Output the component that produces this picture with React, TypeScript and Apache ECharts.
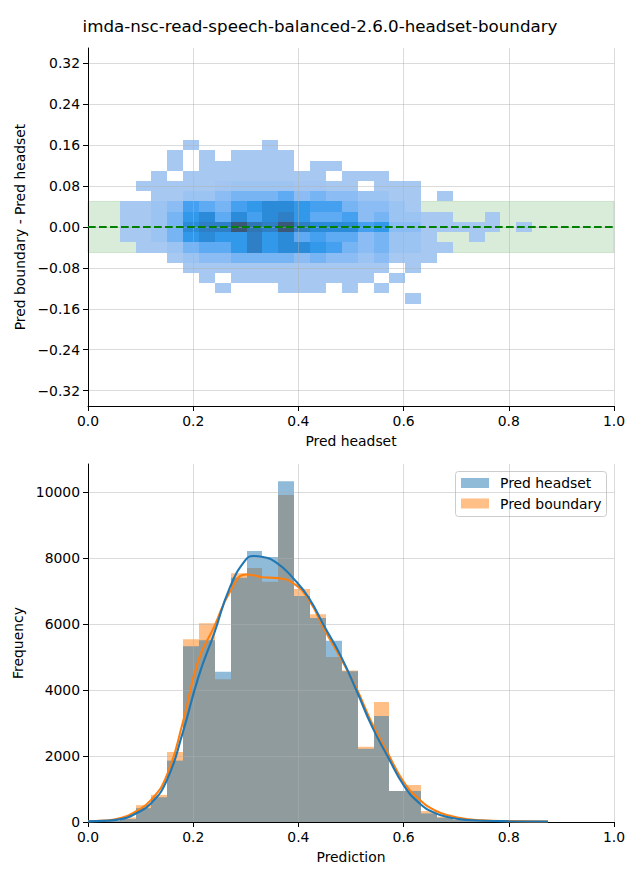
import React, { useEffect, useRef } from "react";
import * as echarts from "echarts";

const TITLE = "imda-nsc-read-speech-balanced-2.6.0-headset-boundary";
const FONT = "DejaVu Sans";

// ---- 1D histogram (29 bins from 0 to ~0.8745) ----
const histBinWidth = 0.030155;
const headsetCounts = [15, 30, 90, 420, 750, 1860, 5330, 5510, 4550, 7400, 8210, 8030, 10330, 6850, 6180, 5490, 4570, 2220, 3210, 940, 940, 260, 130, 60, 30, 20, 15, 10, 8];
const boundaryCounts = [20, 40, 140, 510, 820, 2120, 5540, 6020, 4330, 7540, 7700, 7280, 9910, 7060, 6300, 5000, 4590, 2280, 3640, 940, 1120, 330, 160, 80, 40, 25, 20, 10, 8];

// ---- KDE curves ----
const kdeX = [0, 0.03, 0.06, 0.09, 0.12, 0.15, 0.18, 0.21, 0.24, 0.27, 0.3, 0.315, 0.33, 0.36, 0.39, 0.42, 0.45, 0.48, 0.51, 0.54, 0.57, 0.6, 0.63, 0.66, 0.69, 0.72, 0.75, 0.8, 0.8745];
const kdeHeadset = [20, 35, 80, 250, 570, 1270, 2700, 4400, 5720, 7120, 7950, 8060, 8040, 7840, 7390, 6790, 5910, 5050, 4000, 2890, 1980, 1120, 570, 270, 130, 60, 40, 25, 15];
const kdeBoundary = [25, 45, 110, 310, 670, 1420, 3000, 4900, 5920, 6980, 7500, 7480, 7420, 7390, 7240, 6730, 5820, 4980, 4060, 2990, 2080, 1220, 680, 350, 180, 90, 50, 28, 15];

// ---- 2D histogram (columns = same x bins, starting at bin 2; rows 0.02 tall) ----
const heatFirstCol = 2;
const heatRowHeight = 0.02;
const heatRowCenters = [0.16, 0.14, 0.12, 0.1, 0.08, 0.06, 0.04, 0.02, 0, -0.02, -0.04, -0.06, -0.08, -0.1, -0.12, -0.14];
const heatCounts = [
  [0, 0, 0, 0, 60, 0, 0, 0, 0, 60, 0, 0, 0, 0, 0, 0, 0, 0, 0, 0, 0, 0, 0, 0, 0, 0],
  [0, 0, 0, 60, 0, 60, 0, 60, 60, 60, 60, 0, 0, 0, 0, 0, 0, 0, 0, 0, 0, 0, 0, 0, 0, 0],
  [0, 0, 0, 60, 0, 60, 60, 60, 60, 60, 60, 0, 60, 60, 0, 0, 0, 0, 0, 0, 0, 0, 0, 0, 0, 0],
  [0, 0, 60, 0, 60, 60, 60, 80, 60, 60, 60, 60, 60, 0, 60, 60, 60, 0, 0, 0, 0, 0, 0, 0, 0, 0],
  [0, 60, 60, 60, 60, 60, 150, 200, 200, 200, 200, 150, 150, 60, 60, 0, 60, 60, 60, 0, 0, 0, 0, 0, 0, 0],
  [0, 0, 60, 60, 240, 240, 450, 660, 660, 660, 900, 450, 660, 450, 450, 240, 240, 60, 60, 0, 60, 0, 0, 0, 0, 0],
  [60, 60, 240, 450, 1110, 900, 660, 1110, 1350, 1740, 1740, 1350, 1110, 1110, 660, 450, 450, 240, 60, 0, 0, 0, 0, 0, 0, 0],
  [60, 60, 240, 660, 1350, 1740, 900, 1740, 1110, 1740, 2100, 1350, 900, 900, 1110, 450, 660, 240, 240, 60, 60, 0, 0, 60, 0, 0],
  [60, 60, 240, 660, 1740, 2100, 2100, 2850, 2300, 2100, 2850, 2100, 1740, 1740, 1740, 1110, 1350, 450, 450, 60, 60, 60, 60, 60, 0, 60],
  [60, 60, 240, 660, 1350, 1740, 1350, 1350, 2100, 1350, 1740, 900, 1110, 900, 900, 450, 660, 240, 240, 60, 0, 0, 60, 0, 0, 0],
  [0, 60, 60, 240, 660, 900, 900, 1350, 2100, 1350, 1740, 1740, 1350, 1110, 660, 450, 660, 240, 240, 60, 60, 0, 0, 0, 0, 0],
  [0, 0, 0, 60, 240, 450, 450, 660, 660, 660, 660, 450, 660, 450, 450, 240, 450, 60, 60, 60, 0, 0, 0, 0, 0, 0],
  [0, 0, 0, 0, 60, 60, 60, 60, 60, 60, 60, 60, 60, 60, 60, 60, 60, 0, 60, 0, 0, 0, 0, 0, 0, 0],
  [0, 0, 0, 0, 0, 60, 0, 60, 60, 60, 60, 60, 60, 60, 60, 60, 0, 60, 0, 0, 0, 0, 0, 0, 0, 0],
  [0, 0, 0, 0, 0, 0, 60, 0, 0, 0, 60, 60, 60, 0, 60, 0, 60, 0, 0, 0, 0, 0, 0, 0, 0, 0],
  [0, 0, 0, 0, 0, 0, 0, 0, 0, 0, 0, 0, 0, 0, 0, 0, 0, 0, 60, 0, 0, 0, 0, 0, 0, 0],
];
const heatMax = 3000;
const bandLimits = [-0.05, 0.05];

// ---- ticks ----
const xTicks = [0, 0.2, 0.4, 0.6, 0.8, 1.0];
const yTicksTop = [-0.32, -0.24, -0.16, -0.08, 0, 0.08, 0.16, 0.24, 0.32];
const yTicksBottom = [0, 2000, 4000, 6000, 8000, 10000];

const HEADSET_FILL = "rgba(31,119,180,0.5)";
const BOUNDARY_FILL = "rgba(255,127,14,0.5)";
const GRID_COLOR = "rgba(176,176,176,0.45)";
const heatColors = ["#abcaf0", "#98c2f2", "#7db6f3", "#5eaaf3", "#3a9def", "#2a93e5", "#2b89d6", "#2e7fc6", "#3271ab", "#386089", "#3c5069"];

const minus = (s: string) => s.replace("-", "\u2212");

function histRender(fill: string) {
  return (_params: any, api: any) => {
    const p0 = api.coord([api.value(0), api.value(2)]);
    const p1 = api.coord([api.value(1), 0]);
    const x = Math.round(p0[0]);
    const y = p0[1];
    return {
      type: "rect",
      shape: { x, y, width: Math.round(p1[0]) - x, height: p1[1] - y },
      style: { fill },
    };
  };
}

function heatRender(_params: any, api: any) {
  const p0 = api.coord([api.value(0), api.value(2) + heatRowHeight / 2]);
  const p1 = api.coord([api.value(1), api.value(2) - heatRowHeight / 2]);
  const x = Math.round(p0[0]);
  const y = Math.round(p0[1]);
  const color = api.visual("color");
  return {
    type: "rect",
    shape: { x, y, width: Math.round(p1[0]) - x, height: Math.round(p1[1]) - y },
    style: { fill: color },
  };
}

function bandRender(params: any, api: any) {
  const cs = params.coordSys;
  const yTop = api.coord([0, api.value(1)])[1];
  const yBot = api.coord([0, api.value(0)])[1];
  return {
    type: "rect",
    shape: { x: cs.x, y: yTop, width: cs.width, height: yBot - yTop },
    style: { fill: "rgba(0,128,0,0.15)", stroke: "rgba(0,128,0,0.15)", lineWidth: 1 },
  };
}

function axisCommon(ticks: number[], fmt: (v: number) => string) {
  return {
    axisLine: { show: true, onZero: false, lineStyle: { color: "#000", width: 1 } },
    axisTick: { show: true, length: 5, customValues: ticks, lineStyle: { color: "#000", width: 1 } },
    axisLabel: { customValues: ticks, formatter: fmt, color: "#000", fontSize: 13.9, fontFamily: FONT, margin: 8 },
    splitLine: { show: true, lineStyle: { color: GRID_COLOR, width: 1 } },
    nameTextStyle: { color: "#000", fontSize: 13.9, fontFamily: FONT },
    z: 3,
  };
}

function buildOption(): any {
  const histHeadset = headsetCounts.map((c, i) => [i * histBinWidth, (i + 1) * histBinWidth, c]);
  const histBoundary = boundaryCounts.map((c, i) => [i * histBinWidth, (i + 1) * histBinWidth, c]);
  const heatData: number[][] = [];
  heatRowCenters.forEach((yc, r) => {
    heatCounts[r].forEach((c, j) => {
      if (c > 0) {
        const col = heatFirstCol + j;
        heatData.push([col * histBinWidth, (col + 1) * histBinWidth, yc, c]);
      }
    });
  });

  return {
    animation: false,
    backgroundColor: "#fff",
    title: {
      text: TITLE,
      left: "center",
      top: 17,
      padding: 0,
      textStyle: { fontSize: 16.7, fontWeight: "normal", color: "#000", fontFamily: FONT },
    },
    grid: [
      { left: 88, top: 48, width: 526, height: 358 },
      { left: 88, top: 464, width: 526, height: 358 },
    ],
    xAxis: [
      {
        ...axisCommon(xTicks, (v: number) => v.toFixed(1)),
        type: "value", gridIndex: 0, min: 0, max: 1, interval: 0.2,
        name: "Pred headset", nameLocation: "middle", nameGap: 28,
      },
      {
        ...axisCommon(xTicks, (v: number) => v.toFixed(1)),
        type: "value", gridIndex: 1, min: 0, max: 1, interval: 0.2,
        name: "Prediction", nameLocation: "middle", nameGap: 28,
      },
    ],
    yAxis: [
      {
        ...axisCommon(yTicksTop, (v: number) => minus(v.toFixed(2))),
        type: "value", gridIndex: 0, min: -0.35, max: 0.35,
        name: "Pred boundary - Pred headset", nameLocation: "middle", nameGap: 56,
      },
      {
        ...axisCommon(yTicksBottom, (v: number) => String(v)),
        type: "value", gridIndex: 1, min: 0, max: 10850,
        name: "Frequency", nameLocation: "middle", nameGap: 56,
      },
    ],
    visualMap: {
      show: false,
      type: "continuous",
      seriesIndex: 1,
      dimension: 3,
      min: 0,
      max: heatMax,
      inRange: { color: heatColors },
    },
    series: [
      {
        type: "custom", name: "band", xAxisIndex: 0, yAxisIndex: 0, z: 1,
        renderItem: bandRender, data: [bandLimits], encode: { x: -1, y: [0, 1] }, silent: true,
      },
      {
        type: "custom", name: "heat", xAxisIndex: 0, yAxisIndex: 0, z: 2,
        renderItem: heatRender, data: heatData, encode: { x: [0, 1], y: 2 },
      },
      {
        type: "line", name: "zero", xAxisIndex: 0, yAxisIndex: 0, z: 5,
        data: [[0, 0], [1, 0]], symbol: "none",
        lineStyle: { color: "#008000", width: 2.1, type: [7.7, 3.3] },
      },
      {
        type: "custom", name: "Pred boundary", xAxisIndex: 1, yAxisIndex: 1, z: 1,
        renderItem: histRender(BOUNDARY_FILL), data: histBoundary, encode: { x: [0, 1], y: 2 },
      },
      {
        type: "custom", name: "Pred headset", xAxisIndex: 1, yAxisIndex: 1, z: 2,
        renderItem: histRender(HEADSET_FILL), data: histHeadset, encode: { x: [0, 1], y: 2 },
      },
      {
        type: "line", name: "kde boundary", xAxisIndex: 1, yAxisIndex: 1, z: 5,
        data: kdeX.map((x, i) => [x, kdeBoundary[i]]), symbol: "none", smooth: 0.5,
        lineStyle: { color: "#ff7f0e", width: 2.1 },
      },
      {
        type: "line", name: "kde headset", xAxisIndex: 1, yAxisIndex: 1, z: 6,
        data: kdeX.map((x, i) => [x, kdeHeadset[i]]), symbol: "none", smooth: 0.5,
        lineStyle: { color: "#1f77b4", width: 2.1 },
      },
    ],
    graphic: [
      {
        type: "group", left: 455, top: 471, z: 100,
        children: [
          { type: "rect", shape: { x: 0.5, y: 0.5, width: 151, height: 45, r: 3 }, style: { fill: "rgba(255,255,255,0.8)", stroke: "#cccccc", lineWidth: 1 } },
          { type: "rect", shape: { x: 6, y: 7, width: 28, height: 10 }, style: { fill: HEADSET_FILL } },
          { type: "text", x: 45, y: 12, style: { text: "Pred headset", fill: "#000", fontSize: 13.9, fontFamily: FONT, verticalAlign: "middle" } },
          { type: "rect", shape: { x: 6, y: 27.5, width: 28, height: 10 }, style: { fill: BOUNDARY_FILL } },
          { type: "text", x: 45, y: 32.5, style: { text: "Pred boundary", fill: "#000", fontSize: 13.9, fontFamily: FONT, verticalAlign: "middle" } },
        ],
      },
    ],
  };
}

export default function App() {
  const ref = useRef<HTMLDivElement>(null);
  useEffect(() => {
    document.body.style.margin = "0";
    const chart = echarts.init(ref.current!, null, { renderer: "svg", width: 640, height: 880 });
    chart.setOption(buildOption());
    return () => chart.dispose();
  }, []);
  return <div ref={ref} style={{ width: 640, height: 880, position: "absolute", left: 0, top: 0 }} />;
}
